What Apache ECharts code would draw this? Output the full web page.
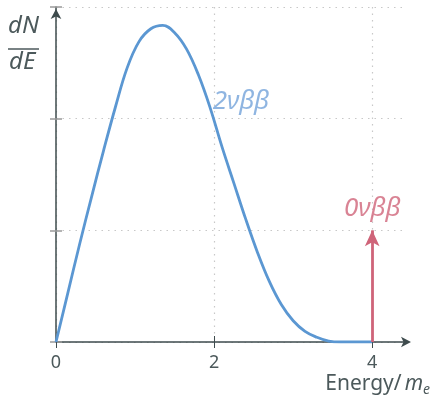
<!DOCTYPE html>
<html><head><meta charset="utf-8">
<script src="https://cdn.jsdelivr.net/npm/echarts@6/dist/echarts.min.js"></script>
<style>html,body{margin:0;padding:0;background:#fff}#c{width:434px;height:403px}</style>
</head><body><div id="c"></div>
<script>
// 2νββ spectrum
const energy2nu = [0, 0.15, 0.30, 0.45, 0.60, 0.75, 0.90, 1.05, 1.20, 1.35, 1.50, 1.65, 1.80, 1.95, 2.10, 2.25, 2.40, 2.55, 2.70, 2.85, 3.00, 3.15, 3.30, 3.45, 3.60, 3.75, 4.0];
const rate2nu   = [0, 0.44, 0.88, 1.30, 1.71, 2.10, 2.455, 2.69, 2.805, 2.835, 2.77, 2.625, 2.395, 2.097, 1.747, 1.423, 1.10, 0.80, 0.54, 0.335, 0.19, 0.095, 0.042, 0.008, 0, 0, 0];
// 0νββ line
const energy0nu = 4;
const rate0nu = 1;
const xTicks = [0, 2, 4];
const yTicks = [0, 1, 2, 3];

const axisCol = '#3e4b4d';
const textCol = '#4c595b';
const blue = '#5b97d2';
const red = '#cf6479';
const font = 'Noto Sans';

const chart = echarts.init(document.getElementById('c'), null, {renderer: 'canvas'});
const xMax = 4.44, yMax = 3;
chart.setOption({
  animation: false,
  grid: {left: 56, right: 27, top: 7, bottom: 61},
  xAxis: [{
    type: 'value', min: 0, max: xMax, interval: 2, position: 'bottom',
    axisLine: {lineStyle: {color: axisCol, width: 1.5}, symbol: ['none', 'arrow'], symbolSize: [8, 10], symbolOffset: [0, 4]},
    axisTick: {show: true, length: 6, lineStyle: {color: axisCol}, customValues: xTicks},
    axisLabel: {color: textCol, fontFamily: font, fontSize: 18, margin: 12, customValues: xTicks},
    splitLine: {show: true, lineStyle: {color: '#c8c8c8', type: [1.5, 5], width: 1.2}},
  }, {
    type: 'value', min: 0, max: xMax, interval: 2, position: 'bottom',
    axisLine: {show: false},
    axisTick: {show: true, inside: true, length: 6, lineStyle: {color: axisCol}, customValues: xTicks},
    axisLabel: {show: false}, splitLine: {show: false}
  }],
  yAxis: [{
    type: 'value', min: 0, max: yMax, interval: 1,
    axisLine: {show: true, lineStyle: {color: axisCol, width: 1.5}, symbol: ['none', 'arrow'], symbolSize: [8, 10], symbolOffset: [0, -2]},
    axisTick: {show: true, length: 6, lineStyle: {color: '#9a9a9a', width: 1.5}, customValues: yTicks},
    axisLabel: {show: false},
    splitLine: {show: true, lineStyle: {color: '#c8c8c8', type: [1.5, 5], width: 1.2}},
  }, {
    type: 'value', min: 0, max: yMax, interval: 1, position: 'left',
    axisLine: {show: false},
    axisTick: {show: true, inside: true, length: 6, lineStyle: {color: '#9a9a9a', width: 1.5}, customValues: yTicks},
    axisLabel: {show: false}, splitLine: {show: false}
  }],
  series: [{
    type: 'line', smooth: 0.4, symbol: 'none',
    data: energy2nu.map((e, i) => [e, rate2nu[i]]),
    lineStyle: {color: blue, width: 2.8},
    z: 3
  }, {
    type: 'line', symbol: 'none', data: [],
    markLine: {
      silent: true, symbol: ['none', 'arrow'], symbolSize: [11, 16],
      label: {show: false},
      lineStyle: {color: red, width: 2.8, type: 'solid'},
      data: [[{coord: [energy0nu, 0]}, {coord: [energy0nu, rate0nu]}]]
    },
    z: 4
  }, {
    type: 'scatter', symbolSize: 0,
    data: [[2.02, 2.05, '2\u03BD\u03B2\u03B2']],
    label: {show: true, position: 'right', distance: 0, formatter: p => p.data[2],
      color: '#73a3da', fontFamily: font, fontStyle: 'italic', fontSize: 26, offset: [-3, -11]}
  }, {
    type: 'scatter', symbolSize: 0,
    data: [[energy0nu, rate0nu, '0\u03BD\u03B2\u03B2']],
    label: {show: true, position: 'top', distance: 0, formatter: p => p.data[2],
      color: red, fontFamily: font, fontStyle: 'italic', fontSize: 26, offset: [0, -9]}
  }],
  graphic: [
    {type: 'text', left: 8, top: 14, style: {text: 'dN', fontFamily: font, fontStyle: 'italic', fontSize: 24, fill: textCol}},
    {type: 'line', shape: {x1: 8, y1: 49, x2: 39, y2: 49}, style: {stroke: textCol, lineWidth: 1.5}},
    {type: 'text', left: 9, top: 50, style: {text: 'dE', fontFamily: font, fontStyle: 'italic', fontSize: 24, fill: textCol}},
    {type: 'text', right: 4, top: 374, style: {text: '{a|Energy/}{m|m}{e|e}', fill: textCol,
      rich: {a: {fontFamily: font, fontSize: 21, lineHeight: 26, color: textCol, verticalAlign: 'middle'},
             m: {fontFamily: font, fontStyle: 'italic', fontSize: 21, lineHeight: 26, color: textCol, verticalAlign: 'middle', padding: [0, 0, 0, 3]},
             e: {fontFamily: font, fontStyle: 'italic', fontSize: 14, lineHeight: 14, color: textCol, verticalAlign: 'bottom'}}}}
  ]
});
</script></body></html>
